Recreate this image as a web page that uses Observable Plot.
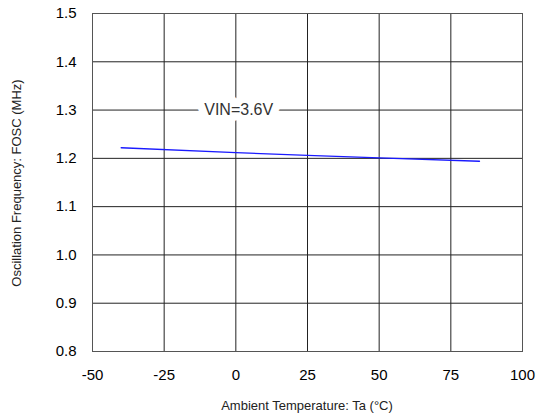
<!DOCTYPE html>
<html><head><meta charset="utf-8">
<script src="https://cdn.jsdelivr.net/npm/d3@7"></script>
<script src="https://cdn.jsdelivr.net/npm/@observablehq/plot@0.6"></script>
<style>body{margin:0;background:#fff;} svg{display:block;}</style>
</head><body><div id="chart"></div>
<script>
const temps = [-40, 0, 25, 50, 85];
const freqs = [1.222, 1.212, 1.206, 1.201, 1.194];
const xTicks = [-50, -25, 0, 25, 50, 75, 100];
const yTicks = [0.8, 0.9, 1.0, 1.1, 1.2, 1.3, 1.4, 1.5];
const labelText = ["VIN=3.6V"];
const labelPos = [{x: 1, y: 1.3}];

const data = temps.map((t, i) => ({t, f: freqs[i]}));

const chart = Plot.plot({
  width: 538, height: 417,
  marginLeft: 92, marginRight: 16, marginTop: 13, marginBottom: 66,
  style: {fontFamily: "Liberation Sans, Arial, sans-serif", fontSize: "15px", color: "#000", background: "#fff"},
  x: {domain: [-50, 100], ticks: xTicks, label: null},
  y: {domain: [0.8, 1.5], ticks: yTicks, label: null},
  marks: [
    Plot.ruleX(xTicks, {stroke: "#222", strokeWidth: 1}),
    Plot.ruleY(yTicks, {stroke: "#222", strokeWidth: 1}),
    Plot.text(labelText, {x: () => labelPos[0].x, y: () => labelPos[0].y, text: d => d, fontSize: 16, fill: "#333", stroke: "white", strokeWidth: 16, paintOrder: "stroke"}),
    Plot.line(data, {x: "t", y: "f", stroke: "#1a1aff", strokeWidth: 1.3}),
    Plot.axisX({ticks: xTicks, tickSize: 0, tickPadding: 18, fontSize: 15, tickFormat: d => String(d), label: null}),
    Plot.axisY({ticks: yTicks, tickSize: 0, tickPadding: 16, tickFormat: d3.format(".1f"), fontSize: 15, label: null}),
    Plot.frame({stroke: "#555"})
  ]
});
const svg = d3.select(chart);
svg.append("text").attr("x", 307).attr("y", 410).attr("text-anchor", "middle")
  .attr("font-size", 13).attr("fill", "#222").text("Ambient Temperature: Ta (°C)");
svg.append("text").attr("transform", "translate(21,183) rotate(-90)").attr("text-anchor", "middle")
  .attr("font-size", 13).attr("fill", "#222").text("Oscillation Frequency: FOSC (MHz)");
document.getElementById("chart").append(chart);
</script>
</body></html>
